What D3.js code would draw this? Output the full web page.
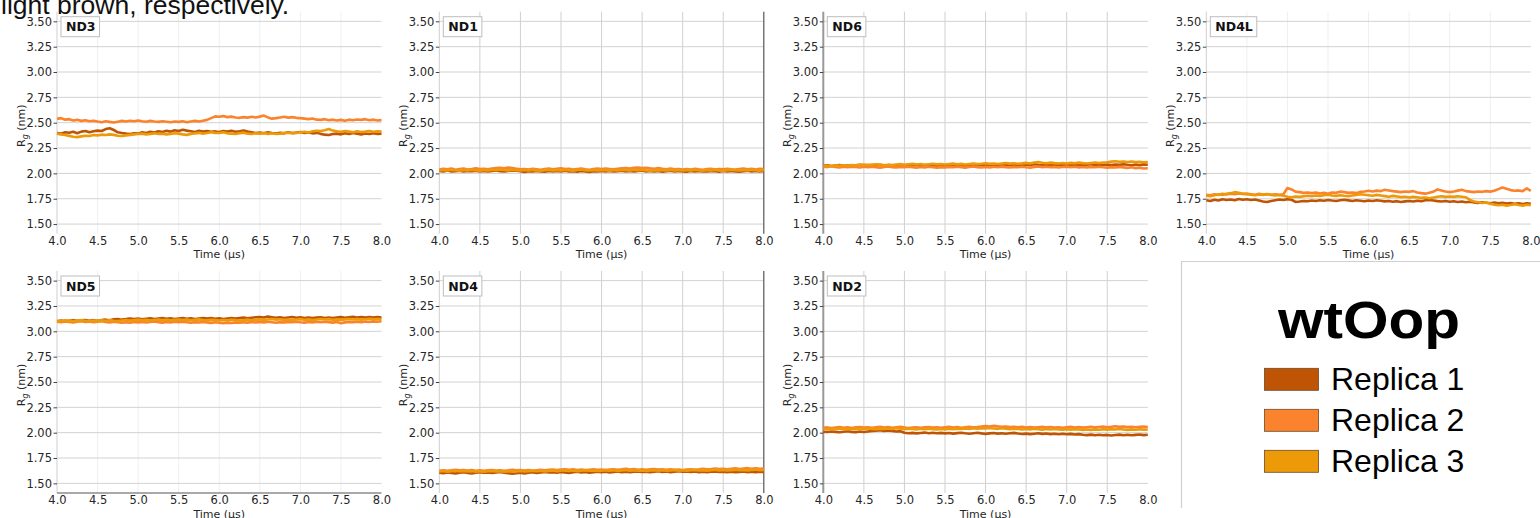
<!DOCTYPE html>
<html>
<head>
<meta charset="utf-8">
<script src="https://cdn.jsdelivr.net/npm/d3@7"></script>
<style>
  body { margin: 0; background: #fff; }
  svg { display: block; }
</style>
</head>
<body>
<svg id="chart" width="1540" height="518"></svg>
<script>
// ---- data ----
const panelNames = ["ND3", "ND1", "ND6", "ND4L", "ND5", "ND4", "ND2"];
const replicaNames = ["Replica 1", "Replica 2", "Replica 3"];
const replicaColors = ["#bf5504", "#fb832d", "#ec9a08"];
const xTicks = [4.0, 4.5, 5.0, 5.5, 6.0, 6.5, 7.0, 7.5, 8.0];
const yTicks = [1.50, 1.75, 2.00, 2.25, 2.50, 2.75, 3.00, 3.25, 3.50];
// sampling times (µs), one frame every 0.05 µs
const times = d3.range(81).map(i => 4 + i * 0.05);

const nd3_r1 = [2.398,2.392,2.405,2.401,2.410,2.396,2.412,2.418,2.405,2.415,
  2.422,2.418,2.437,2.445,2.428,2.405,2.398,2.392,2.388,2.396,
  2.392,2.405,2.398,2.410,2.403,2.415,2.408,2.420,2.412,2.425,
  2.418,2.430,2.422,2.415,2.408,2.420,2.412,2.418,2.410,2.414,
  2.408,2.418,2.412,2.420,2.410,2.415,2.422,2.412,2.405,2.398,
  2.402,2.396,2.405,2.398,2.392,2.400,2.395,2.405,2.398,2.402,
  2.408,2.398,2.403,2.395,2.400,2.390,2.382,2.378,2.388,2.392,
  2.385,2.395,2.388,2.398,2.392,2.385,2.394,2.388,2.396,2.390,2.392];
const nd3_r2 = [2.538,2.545,2.530,2.535,2.522,2.528,2.518,2.525,2.515,2.520,
  2.512,2.505,2.515,2.508,2.502,2.510,2.518,2.512,2.520,2.515,
  2.522,2.515,2.510,2.518,2.512,2.508,2.515,2.510,2.505,2.512,
  2.508,2.515,2.505,2.512,2.518,2.512,2.520,2.528,2.545,2.562,
  2.558,2.565,2.555,2.560,2.552,2.548,2.555,2.550,2.558,2.552,
  2.560,2.570,2.552,2.540,2.545,2.552,2.558,2.550,2.555,2.548,
  2.545,2.540,2.535,2.542,2.530,2.528,2.535,2.525,2.530,2.522,
  2.528,2.520,2.530,2.525,2.532,2.528,2.535,2.525,2.530,2.522,2.525];
const nd3_r3 = [2.392,2.385,2.378,2.370,2.362,2.358,2.365,2.372,2.368,2.378,
  2.375,2.382,2.378,2.385,2.380,2.372,2.368,2.375,2.380,2.385,
  2.388,2.392,2.385,2.390,2.395,2.388,2.392,2.385,2.390,2.396,
  2.392,2.385,2.380,2.388,2.395,2.400,2.392,2.398,2.405,2.400,
  2.398,2.405,2.395,2.392,2.388,2.395,2.402,2.392,2.388,2.395,
  2.392,2.398,2.390,2.395,2.388,2.392,2.398,2.402,2.395,2.400,
  2.405,2.410,2.402,2.415,2.420,2.418,2.425,2.438,2.422,2.415,
  2.410,2.418,2.412,2.405,2.415,2.408,2.412,2.418,2.410,2.415,2.412];

const nd1_r1 = [2.025,2.020,2.028,2.018,2.022,2.026,2.019,2.024,2.021,2.027,
  2.020,2.025,2.018,2.023,2.028,2.022,2.019,2.025,2.030,2.026,
  2.021,2.015,2.022,2.018,2.025,2.020,2.016,2.023,2.019,2.024,
  2.020,2.026,2.018,2.022,2.017,2.024,2.020,2.015,2.022,2.018,
  2.023,2.019,2.025,2.018,2.022,2.027,2.020,2.024,2.018,2.023,
  2.028,2.020,2.025,2.019,2.023,2.017,2.022,2.026,2.019,2.024,
  2.020,2.016,2.023,2.019,2.025,2.020,2.018,2.024,2.021,2.017,
  2.023,2.019,2.025,2.020,2.016,2.022,2.026,2.019,2.023,2.020,2.024];
const nd1_r2 = [2.038,2.045,2.040,2.048,2.036,2.042,2.047,2.039,2.044,2.050,
  2.042,2.046,2.040,2.048,2.052,2.055,2.050,2.058,2.052,2.046,
  2.040,2.044,2.038,2.045,2.041,2.036,2.043,2.047,2.040,2.045,
  2.050,2.042,2.046,2.039,2.044,2.048,2.041,2.036,2.043,2.047,
  2.042,2.048,2.044,2.040,2.046,2.050,2.053,2.048,2.055,2.058,
  2.052,2.056,2.050,2.046,2.052,2.045,2.041,2.047,2.040,2.044,
  2.038,2.043,2.039,2.045,2.040,2.036,2.042,2.046,2.039,2.044,
  2.040,2.046,2.041,2.037,2.043,2.048,2.041,2.045,2.039,2.046,2.042];
const nd1_r3 = [2.030,2.034,2.028,2.035,2.031,2.026,2.033,2.029,2.036,2.031,
  2.027,2.034,2.030,2.036,2.032,2.038,2.033,2.029,2.035,2.031,
  2.028,2.033,2.029,2.035,2.030,2.026,2.032,2.036,2.030,2.034,
  2.029,2.035,2.031,2.027,2.033,2.038,2.032,2.028,2.034,2.030,
  2.035,2.031,2.027,2.034,2.030,2.036,2.032,2.029,2.035,2.031,
  2.036,2.030,2.026,2.032,2.028,2.034,2.030,2.035,2.029,2.033,
  2.028,2.034,2.030,2.036,2.031,2.027,2.033,2.029,2.035,2.030,
  2.026,2.032,2.037,2.031,2.028,2.034,2.030,2.036,2.031,2.027,2.033];

const nd6_r1 = [2.075,2.080,2.072,2.078,2.083,2.076,2.081,2.074,2.079,2.085,
  2.078,2.082,2.076,2.080,2.086,2.079,2.074,2.081,2.077,2.083,
  2.079,2.084,2.078,2.082,2.076,2.081,2.086,2.080,2.075,2.082,
  2.078,2.083,2.079,2.085,2.080,2.076,2.082,2.087,2.081,2.085,
  2.080,2.086,2.082,2.088,2.083,2.079,2.085,2.081,2.087,2.083,
  2.089,2.084,2.090,2.085,2.081,2.087,2.083,2.088,2.084,2.080,
  2.086,2.082,2.088,2.083,2.079,2.085,2.090,2.084,2.088,2.083,
  2.087,2.082,2.088,2.084,2.090,2.085,2.081,2.087,2.083,2.089,2.085];
const nd6_r2 = [2.068,2.062,2.070,2.064,2.059,2.066,2.061,2.067,2.063,2.058,
  2.065,2.060,2.066,2.062,2.057,2.064,2.069,2.062,2.058,2.064,
  2.060,2.066,2.061,2.056,2.063,2.059,2.065,2.060,2.055,2.062,
  2.058,2.064,2.060,2.066,2.061,2.057,2.063,2.068,2.062,2.058,
  2.064,2.059,2.065,2.061,2.067,2.062,2.058,2.064,2.060,2.066,
  2.061,2.057,2.063,2.068,2.062,2.066,2.060,2.064,2.058,2.063,
  2.067,2.061,2.065,2.059,2.063,2.058,2.064,2.060,2.066,2.061,
  2.057,2.062,2.058,2.064,2.059,2.054,2.060,2.052,2.057,2.048,2.050];
const nd6_r3 = [2.070,2.076,2.072,2.079,2.074,2.081,2.077,2.083,2.078,2.085,
  2.088,2.082,2.086,2.090,2.084,2.080,2.086,2.082,2.088,2.091,
  2.085,2.090,2.094,2.088,2.092,2.086,2.090,2.095,2.089,2.093,
  2.087,2.092,2.096,2.090,2.094,2.088,2.093,2.097,2.091,2.095,
  2.100,2.094,2.098,2.092,2.097,2.102,2.096,2.100,2.095,2.099,
  2.104,2.098,2.108,2.112,2.105,2.100,2.106,2.101,2.097,2.103,
  2.098,2.104,2.100,2.106,2.101,2.097,2.103,2.108,2.102,2.107,
  2.110,2.116,2.120,2.114,2.118,2.112,2.117,2.111,2.115,2.109,2.113];

const nd4l_r1 = [1.735,1.728,1.740,1.732,1.745,1.738,1.742,1.735,1.748,1.740,
  1.745,1.738,1.742,1.732,1.722,1.718,1.728,1.735,1.742,1.738,
  1.745,1.740,1.718,1.722,1.728,1.725,1.732,1.728,1.735,1.730,
  1.738,1.732,1.728,1.735,1.740,1.734,1.728,1.735,1.730,1.725,
  1.732,1.728,1.735,1.730,1.724,1.728,1.720,1.726,1.718,1.724,
  1.728,1.722,1.730,1.726,1.735,1.738,1.732,1.726,1.722,1.728,
  1.720,1.725,1.718,1.722,1.716,1.720,1.712,1.708,1.715,1.710,
  1.705,1.712,1.706,1.710,1.702,1.708,1.700,1.705,1.698,1.704,1.700];
const nd4l_r2 = [1.790,1.785,1.795,1.788,1.798,1.792,1.800,1.794,1.802,1.796,
  1.800,1.795,1.790,1.798,1.792,1.796,1.790,1.794,1.788,1.795,
  1.855,1.842,1.820,1.815,1.808,1.812,1.805,1.810,1.802,1.808,
  1.800,1.812,1.808,1.820,1.815,1.808,1.812,1.805,1.818,1.822,
  1.828,1.822,1.830,1.825,1.838,1.832,1.825,1.820,1.815,1.822,
  1.818,1.825,1.812,1.805,1.800,1.810,1.820,1.842,1.830,1.822,
  1.815,1.822,1.830,1.838,1.825,1.820,1.815,1.822,1.818,1.825,
  1.820,1.828,1.845,1.860,1.848,1.835,1.828,1.832,1.825,1.852,1.828];
const nd4l_r3 = [1.780,1.775,1.785,1.792,1.788,1.798,1.805,1.815,1.808,1.800,
  1.795,1.790,1.785,1.792,1.788,1.795,1.788,1.782,1.786,1.780,
  1.770,1.765,1.772,1.768,1.775,1.780,1.775,1.782,1.778,1.785,
  1.790,1.782,1.778,1.785,1.780,1.776,1.782,1.788,1.795,1.790,
  1.785,1.780,1.788,1.782,1.776,1.770,1.778,1.772,1.766,1.770,
  1.762,1.768,1.765,1.758,1.762,1.755,1.762,1.770,1.775,1.768,
  1.772,1.768,1.775,1.770,1.765,1.738,1.722,1.715,1.708,1.712,
  1.700,1.692,1.685,1.690,1.682,1.688,1.695,1.688,1.682,1.690,1.685];

const nd5_r1 = [3.100,3.106,3.098,3.104,3.110,3.103,3.108,3.112,3.105,3.110,
  3.104,3.110,3.115,3.108,3.118,3.122,3.115,3.120,3.126,3.120,
  3.125,3.118,3.124,3.128,3.121,3.126,3.130,3.123,3.128,3.122,
  3.127,3.131,3.124,3.129,3.122,3.127,3.132,3.125,3.130,3.124,
  3.128,3.122,3.127,3.131,3.125,3.130,3.135,3.128,3.134,3.138,
  3.142,3.136,3.145,3.139,3.133,3.138,3.132,3.137,3.141,3.134,
  3.138,3.132,3.136,3.130,3.135,3.139,3.132,3.137,3.131,3.136,
  3.140,3.134,3.139,3.144,3.137,3.142,3.136,3.141,3.135,3.140,3.137];
const nd5_r2 = [3.095,3.090,3.098,3.092,3.087,3.094,3.099,3.092,3.096,3.090,
  3.095,3.100,3.093,3.088,3.094,3.089,3.084,3.090,3.086,3.092,
  3.088,3.093,3.087,3.092,3.097,3.091,3.086,3.092,3.088,3.094,
  3.089,3.095,3.090,3.085,3.091,3.087,3.093,3.088,3.083,3.089,
  3.085,3.080,3.086,3.082,3.088,3.084,3.090,3.086,3.092,3.087,
  3.093,3.088,3.094,3.090,3.085,3.091,3.087,3.093,3.089,3.095,
  3.090,3.086,3.092,3.088,3.094,3.089,3.095,3.091,3.086,3.092,
  3.080,3.088,3.093,3.089,3.094,3.090,3.096,3.092,3.098,3.094,3.100];
const nd5_r3 = [3.105,3.100,3.108,3.103,3.098,3.105,3.110,3.104,3.100,3.107,
  3.102,3.108,3.104,3.110,3.105,3.101,3.107,3.112,3.106,3.110,
  3.115,3.109,3.113,3.107,3.112,3.117,3.110,3.114,3.108,3.113,
  3.117,3.111,3.115,3.109,3.114,3.118,3.112,3.108,3.114,3.110,
  3.106,3.112,3.108,3.114,3.110,3.104,3.110,3.115,3.109,3.113,
  3.118,3.112,3.116,3.121,3.115,3.119,3.113,3.117,3.112,3.116,
  3.120,3.114,3.118,3.112,3.117,3.122,3.116,3.120,3.114,3.118,
  3.113,3.118,3.122,3.116,3.120,3.115,3.119,3.124,3.118,3.122,3.118];

const nd4_r1 = [1.605,1.600,1.608,1.602,1.597,1.604,1.609,1.603,1.598,1.605,
  1.610,1.604,1.608,1.602,1.607,1.612,1.606,1.601,1.596,1.600,
  1.605,1.598,1.604,1.609,1.603,1.608,1.613,1.607,1.611,1.606,
  1.612,1.607,1.603,1.609,1.614,1.608,1.612,1.606,1.611,1.615,
  1.609,1.614,1.608,1.613,1.617,1.611,1.615,1.609,1.614,1.618,
  1.612,1.616,1.610,1.615,1.619,1.613,1.617,1.611,1.616,1.620,
  1.614,1.618,1.612,1.617,1.611,1.615,1.609,1.614,1.618,1.612,
  1.616,1.610,1.615,1.609,1.613,1.617,1.611,1.615,1.610,1.614,1.612];
const nd4_r2 = [1.625,1.630,1.624,1.629,1.634,1.628,1.632,1.626,1.631,1.625,
  1.629,1.623,1.628,1.632,1.626,1.630,1.625,1.629,1.634,1.628,
  1.632,1.627,1.631,1.625,1.630,1.634,1.628,1.633,1.637,1.631,
  1.636,1.640,1.634,1.638,1.632,1.637,1.631,1.635,1.639,1.633,
  1.637,1.632,1.636,1.640,1.634,1.638,1.643,1.637,1.641,1.635,
  1.639,1.634,1.638,1.642,1.636,1.640,1.635,1.639,1.633,1.637,
  1.632,1.636,1.640,1.635,1.639,1.644,1.638,1.642,1.647,1.641,
  1.645,1.640,1.644,1.648,1.642,1.646,1.650,1.644,1.648,1.643,1.646];
const nd4_r3 = [1.618,1.622,1.616,1.621,1.625,1.619,1.623,1.617,1.622,1.616,
  1.620,1.615,1.619,1.623,1.617,1.621,1.616,1.620,1.614,1.618,
  1.622,1.617,1.621,1.626,1.620,1.624,1.618,1.623,1.627,1.621,
  1.625,1.629,1.623,1.627,1.621,1.626,1.630,1.624,1.628,1.622,
  1.626,1.631,1.625,1.629,1.623,1.628,1.632,1.626,1.630,1.624,
  1.628,1.623,1.627,1.631,1.625,1.629,1.624,1.628,1.632,1.626,
  1.630,1.625,1.629,1.633,1.627,1.631,1.626,1.630,1.634,1.628,
  1.632,1.627,1.631,1.635,1.629,1.633,1.628,1.632,1.636,1.630,1.633];

const nd2_r1 = [2.010,2.006,2.012,2.008,2.004,2.010,2.014,2.008,2.005,2.011,
  2.007,2.012,2.016,2.020,2.024,2.018,2.022,2.016,2.012,2.015,
  2.000,1.994,1.998,1.993,1.997,2.001,1.995,1.999,1.994,1.998,
  1.993,1.997,1.991,1.996,2.000,1.994,1.990,1.995,1.999,1.993,
  1.988,1.993,1.997,1.991,1.995,1.989,1.994,1.998,1.992,1.987,
  1.991,1.986,1.990,1.994,1.988,1.992,1.986,1.990,1.985,1.989,
  1.984,1.988,1.982,1.986,1.980,1.976,1.981,1.975,1.979,1.974,
  1.978,1.973,1.977,1.981,1.975,1.979,1.974,1.978,1.982,1.976,1.979];
const nd2_r2 = [2.048,2.052,2.046,2.051,2.055,2.049,2.053,2.047,2.052,2.056,
  2.050,2.054,2.048,2.053,2.057,2.051,2.055,2.049,2.054,2.058,
  2.052,2.046,2.050,2.054,2.048,2.052,2.056,2.050,2.054,2.049,
  2.053,2.057,2.051,2.055,2.049,2.054,2.058,2.052,2.056,2.061,
  2.065,2.060,2.068,2.062,2.057,2.061,2.055,2.059,2.053,2.057,
  2.051,2.055,2.050,2.054,2.058,2.052,2.056,2.050,2.054,2.049,
  2.053,2.057,2.051,2.055,2.050,2.054,2.058,2.052,2.056,2.060,
  2.054,2.058,2.063,2.057,2.061,2.055,2.059,2.053,2.057,2.061,2.056];
const nd2_r3 = [2.038,2.034,2.040,2.036,2.041,2.037,2.033,2.039,2.035,2.040,
  2.036,2.042,2.038,2.034,2.040,2.036,2.041,2.037,2.043,2.039,
  2.035,2.040,2.036,2.032,2.038,2.034,2.039,2.035,2.031,2.037,
  2.033,2.038,2.034,2.040,2.036,2.041,2.037,2.043,2.039,2.045,
  2.041,2.046,2.042,2.038,2.043,2.039,2.035,2.040,2.036,2.032,
  2.037,2.033,2.038,2.034,2.030,2.036,2.032,2.037,2.033,2.029,
  2.034,2.030,2.035,2.031,2.027,2.032,2.028,2.033,2.029,2.034,
  2.030,2.035,2.031,2.036,2.032,2.028,2.033,2.029,2.034,2.030,2.032];

const panelSeries = {
  ND3: [nd3_r1, nd3_r2, nd3_r3],
  ND1: [nd1_r1, nd1_r2, nd1_r3],
  ND6: [nd6_r1, nd6_r2, nd6_r3],
  ND4L: [nd4l_r1, nd4l_r2, nd4l_r3],
  ND5: [nd5_r1, nd5_r2, nd5_r3],
  ND4: [nd4_r1, nd4_r2, nd4_r3],
  ND2: [nd2_r1, nd2_r2, nd2_r3]
};

// ---- layout ----
const colLeft = [57, 439.3, 823.3, 1206.3];
const rowTop = [11.7, 271];
const plotW = 324.5, plotH = 222;
const xDomain = [4, 8], yDomain = [1.405, 3.595];

// per-panel frame styling
const frameStyle = {
  ND3:  { vgrid: "#efefef" },
  ND1:  { vgrid: "#d0d0d0", right: "#555" },
  ND6:  { vgrid: "#d0d0d0", left: "#999" },
  ND4L: { vgrid: "#efefef" },
  ND5:  { vgrid: "#efefef", bottom: "#555" },
  ND4:  { vgrid: "#d0d0d0", right: "#555" },
  ND2:  { vgrid: "#d0d0d0", left: "#999" }
};

const svg = d3.select("#chart");
svg.append("rect").attr("width", 1540).attr("height", 518).attr("fill", "#fff");

// caption text running in from above
svg.append("text")
  .attr("x", 1).attr("y", 13.5)
  .attr("font-family", "Liberation Sans, Arial, sans-serif")
  .attr("font-size", 26.5)
  .attr("fill", "#111")
  .text("light brown, respectively.");

const tickFont = "DejaVu Sans, sans-serif";

panelNames.forEach((name, idx) => {
  const col = idx < 4 ? idx : idx - 4;
  const row = idx < 4 ? 0 : 1;
  const left = colLeft[col], top = rowTop[row];
  const style = frameStyle[name];

  const x = d3.scaleLinear().domain(xDomain).range([0, plotW]);
  const y = d3.scaleLinear().domain(yDomain).range([plotH, 0]);

  const g = svg.append("g").attr("transform", `translate(${left},${top})`);

  // vertical grid
  g.append("g")
    .selectAll("line")
    .data(xTicks.filter(t => t > 4 && t < 8))
    .join("line")
    .attr("x1", d => x(d)).attr("x2", d => x(d))
    .attr("y1", 0).attr("y2", plotH)
    .attr("stroke", style.vgrid).attr("stroke-width", 1);

  // horizontal grid
  g.append("g")
    .selectAll("line")
    .data(yTicks)
    .join("line")
    .attr("x1", 0).attr("x2", plotW)
    .attr("y1", d => y(d)).attr("y2", d => y(d))
    .attr("stroke", "#d2d2d2").attr("stroke-width", 1);

  // left spine
  g.append("line")
    .attr("x1", 0).attr("x2", 0).attr("y1", 0).attr("y2", plotH)
    .attr("stroke", style.left || "#cfcfcf")
    .attr("stroke-width", style.left ? 2 : 1);
  if (style.right) {
    g.append("line")
      .attr("x1", plotW).attr("x2", plotW).attr("y1", 0).attr("y2", plotH)
      .attr("stroke", style.right).attr("stroke-width", 1.2);
  }
  if (style.bottom) {
    g.append("line")
      .attr("x1", 0).attr("x2", plotW).attr("y1", plotH).attr("y2", plotH)
      .attr("stroke", style.bottom).attr("stroke-width", 1.2);
  }

  // replica traces
  const line = d3.line()
    .x((d, i) => x(times[i]))
    .y(d => y(d));
  panelSeries[name].forEach((vals, r) => {
    g.append("path")
      .datum(vals)
      .attr("d", line)
      .attr("fill", "none")
      .attr("stroke", replicaColors[r])
      .attr("stroke-width", 2.6)
      .attr("stroke-linejoin", "round");
  });

  // y axis
  const yAxis = g.append("g")
    .call(d3.axisLeft(y).tickValues(yTicks).tickFormat(d3.format(".2f"))
      .tickSize(3.5).tickPadding(1.5));
  yAxis.select(".domain").remove();
  yAxis.selectAll(".tick line").attr("stroke", "#444");
  yAxis.selectAll("text")
    .attr("font-family", tickFont).attr("font-size", 11.5).attr("fill", "#262626");

  // x axis
  const xAxis = g.append("g")
    .attr("transform", `translate(0,${plotH})`)
    .call(d3.axisBottom(x).tickValues(xTicks).tickFormat(d3.format(".1f"))
      .tickSize(0).tickPadding(3));
  xAxis.select(".domain").remove();
  xAxis.selectAll("text")
    .attr("font-family", tickFont).attr("font-size", 11.5).attr("fill", "#262626");

  // axis titles
  g.append("text")
    .attr("x", plotW / 2).attr("y", plotH + 24.5)
    .attr("text-anchor", "middle")
    .attr("font-family", tickFont).attr("font-size", 11).attr("fill", "#262626")
    .text("Time (μs)");

  const yl = g.append("text")
    .attr("transform", `translate(-32,${plotH / 2 + 3}) rotate(-90)`)
    .attr("text-anchor", "middle")
    .attr("font-family", tickFont).attr("font-size", 11).attr("fill", "#262626");
  yl.append("tspan").text("R");
  yl.append("tspan").attr("font-size", 8).attr("font-style", "italic")
    .attr("dy", 3).text("g");
  yl.append("tspan").attr("dy", -3).text(" (nm)");

  // panel tag
  const tag = g.append("g").attr("transform", "translate(4,5)");
  const tagText = tag.append("text")
    .attr("x", 5).attr("y", 14.5)
    .attr("font-family", tickFont).attr("font-weight", "bold")
    .attr("font-size", 12.5).attr("fill", "#111")
    .text(name);
  const tw = tagText.node().getComputedTextLength();
  tag.insert("rect", "text")
    .attr("x", 0).attr("y", 0)
    .attr("width", tw + 9).attr("height", 20)
    .attr("fill", "#fff").attr("stroke", "#bdbdbd").attr("stroke-width", 1);
});

// ---- legend ----
const lg = svg.append("g");
lg.append("path")
  .attr("d", "M1181.5,508 V261.5 H1540")
  .attr("fill", "none").attr("stroke", "#d0d0d0").attr("stroke-width", 1.2);

lg.append("text")
  .attr("x", 1369).attr("y", 338)
  .attr("text-anchor", "middle")
  .attr("font-family", "Liberation Sans, Arial, sans-serif")
  .attr("font-weight", "bold").attr("font-size", 51)
  .attr("textLength", 182).attr("lengthAdjust", "spacingAndGlyphs")
  .attr("fill", "#000")
  .text("wtOop");

replicaNames.forEach((nm, i) => {
  const yTop = 368.3 + i * 41;
  lg.append("rect")
    .attr("x", 1264.5).attr("y", yTop)
    .attr("width", 54).attr("height", 22)
    .attr("fill", replicaColors[i])
    .attr("stroke", "#6b4a2a").attr("stroke-width", 0.8);
  lg.append("text")
    .attr("x", 1331).attr("y", yTop + 22)
    .attr("font-family", "Liberation Sans, Arial, sans-serif")
    .attr("font-size", 32).attr("fill", "#000")
    .text(nm);
});
</script>
</body>
</html>
